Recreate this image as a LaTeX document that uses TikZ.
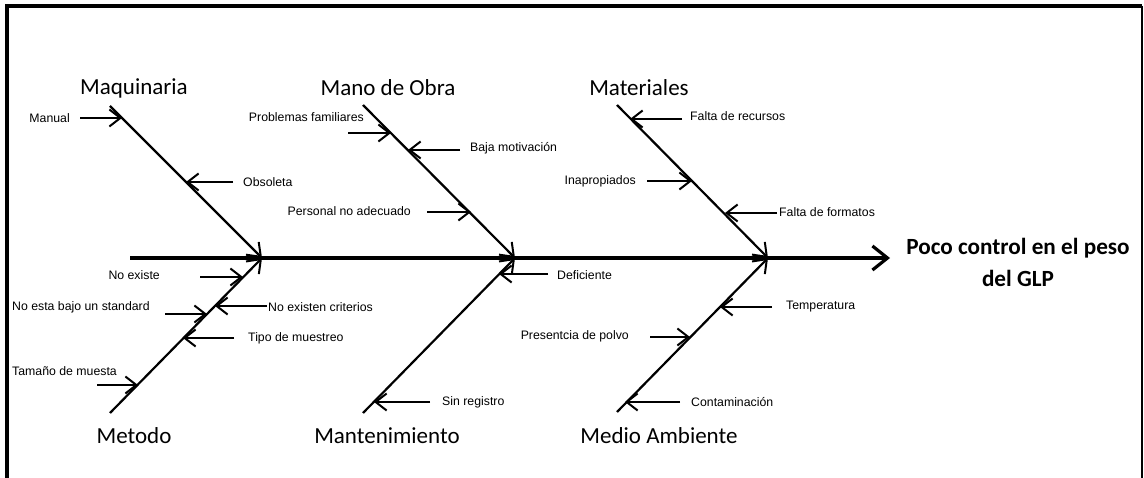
\documentclass[tikz,border=0pt]{standalone}
\usepackage{fontspec}
\usetikzlibrary{arrows.meta}
\newfontfamily\calfont{Carlito}
\newfontfamily\arifont{Liberation Sans}
\tikzset{
  cat/.style={font=\calfont\fontsize{23}{26}\selectfont, inner sep=0pt},
  sub/.style={font=\arifont\fontsize{12.3}{14}\selectfont, inner sep=0pt},
  head/.style={font=\calfont\bfseries\fontsize{23.2}{32}\selectfont, align=center, inner sep=0pt},
  bone/.style={line width=2.2pt, -{Straight Barb[length=12pt,width=18pt,line width=2pt]}},
  causearrow/.style={line width=2.2pt, -{Straight Barb[length=11pt,width=17pt,line width=2pt]}},
  spine/.style={line width=3.8pt, -{Straight Barb[length=15pt,width=24pt,line width=3.2pt]}},
  frame/.style={line width=3.2pt}
}
\begin{document}
\begin{tikzpicture}[x=1pt,y=-1pt]
\useasboundingbox (0,0) rectangle (1144,478);
% frame
\draw[frame] (7,478) -- (7,6) -- (1142,6);
\draw[line width=2.2pt] (1142,6) -- (1142,478);

% spine
\coordinate (s0) at (130,258);
\coordinate (s1) at (890,258);
\draw[spine] (s0) -- (s1);
\node[head] (effect) at (1018,262) {Poco control en el peso\\del GLP};

% junctions
\coordinate (j1) at (262,258);
\coordinate (j2) at (515,258);
\coordinate (j3) at (768,258);

% branch ends
\coordinate (t1) at (110,106);
\coordinate (t2) at (363,105);
\coordinate (t3) at (617,105);
\coordinate (b1) at (110,413);
\coordinate (b2) at (363,413);
\coordinate (b3) at (617,412);

\draw[bone] (t1) -- (j1);
\draw[bone] (t2) -- (j2);
\draw[bone] (t3) -- (j3);
\draw[bone] (b1) -- (j1);
\draw[bone] (b2) -- (j2);
\draw[bone] (b3) -- (j3);

% category labels
\node[cat] (maq) at (134,88) {Maquinaria};
\node[cat] (mob) at (388,88) {Mano de Obra};
\node[cat] (mat) at (639,88) {Materiales};
\node[cat] (met) at (134,436) {Metodo};
\node[cat] (man) at (387,436) {Mantenimiento};
\node[cat] (med) at (659,436) {Medio Ambiente};

% Maquinaria causes
\node[sub, anchor=east] (manual) at (70,118) {Manual};
\coordinate (a1s) at (80,118); \coordinate (a1e) at (122,118);
\draw[causearrow] (a1s) -- (a1e);
\node[sub, anchor=west] (obs) at (243,182) {Obsoleta};
\coordinate (a2s) at (233,182); \coordinate (a2e) at (186,182);
\draw[causearrow] (a2s) -- (a2e);

% Mano de Obra causes
\node[sub, anchor=east] (prob) at (364,117) {Problemas familiares};
\coordinate (a3s) at (348,133); \coordinate (a3e) at (391,133);
\draw[causearrow] (a3s) -- (a3e);
\node[sub, anchor=west] (baja) at (470,148) {Baja motivación};
\coordinate (a4s) at (460,150); \coordinate (a4e) at (408,150);
\draw[causearrow] (a4s) -- (a4e);
\node[sub, anchor=east] (pers) at (411,211) {Personal no adecuado};
\coordinate (a5s) at (427,212); \coordinate (a5e) at (471,212);
\draw[causearrow] (a5s) -- (a5e);

% Materiales causes
\node[sub, anchor=west] (frec) at (690,116) {Falta de recursos};
\coordinate (a6s) at (682,119); \coordinate (a6e) at (630,119);
\draw[causearrow] (a6s) -- (a6e);
\node[sub, anchor=east] (inap) at (636,181) {Inapropiados};
\coordinate (a7s) at (647,181); \coordinate (a7e) at (692,181);
\draw[causearrow] (a7s) -- (a7e);
\node[sub, anchor=west] (ffor) at (779,212) {Falta de formatos};
\coordinate (a8s) at (777,213); \coordinate (a8e) at (725,213);
\draw[causearrow] (a8s) -- (a8e);

% Metodo causes
\node[sub, anchor=east] (noex) at (160,275) {No existe};
\coordinate (a9s) at (200,277); \coordinate (a9e) at (243,277);
\draw[causearrow] (a9s) -- (a9e);
\node[sub, anchor=west] (nosta) at (12,307) {No esta bajo un standard};
\coordinate (a10s) at (165,314); \coordinate (a10e) at (207,314);
\draw[causearrow] (a10s) -- (a10e);
\node[sub, anchor=west] (crit) at (268,307) {No existen criterios};
\coordinate (a11s) at (267,306); \coordinate (a11e) at (215,306);
\draw[causearrow] (a11s) -- (a11e);
\node[sub, anchor=west] (tipo) at (248,338) {Tipo de muestreo};
\coordinate (a12s) at (234,338); \coordinate (a12e) at (183,338);
\draw[causearrow] (a12s) -- (a12e);
\node[sub, anchor=west] (tam) at (12,371) {Tamaño de muesta};
\coordinate (a13s) at (97,385); \coordinate (a13e) at (138,385);
\draw[causearrow] (a13s) -- (a13e);

% Mantenimiento causes
\node[sub, anchor=west] (defi) at (557,275) {Deficiente};
\coordinate (a14s) at (548,274); \coordinate (a14e) at (499,274);
\draw[causearrow] (a14s) -- (a14e);
\node[sub, anchor=west] (sinr) at (442,402) {Sin registro};
\coordinate (a15s) at (430,402); \coordinate (a15e) at (374,402);
\draw[causearrow] (a15s) -- (a15e);

% Medio Ambiente causes
\node[sub, anchor=west] (temp) at (786,307) {Temperatura};
\coordinate (a16s) at (772,307); \coordinate (a16e) at (720,307);
\draw[causearrow] (a16s) -- (a16e);
\node[sub, anchor=east] (polvo) at (629,336) {Presentcia de polvo};
\coordinate (a17s) at (650,337); \coordinate (a17e) at (690,337);
\draw[causearrow] (a17s) -- (a17e);
\node[sub, anchor=west] (cont) at (691,402) {Contaminación};
\coordinate (a18s) at (680,402); \coordinate (a18e) at (625,402);
\draw[causearrow] (a18s) -- (a18e);
\end{tikzpicture}
\end{document}
